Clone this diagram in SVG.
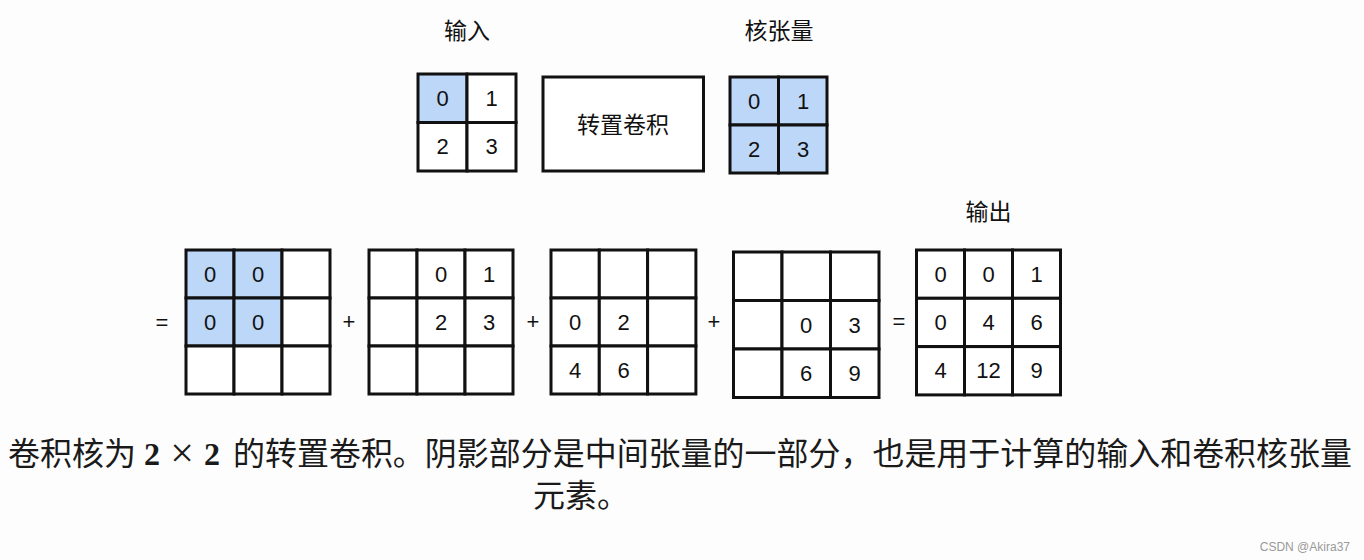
<svg xmlns="http://www.w3.org/2000/svg" width="1364" height="560" viewBox="0 0 1364 560">
<style>
.cell{fill:#ffffff;stroke:#111;stroke-width:3}
.sh{fill:#bcd7f8;stroke:#111;stroke-width:3}
.num{font-family:"Liberation Sans",Arial,sans-serif;font-size:22px;fill:#111;text-anchor:middle;dominant-baseline:central}
.lbl{font-family:"Noto Sans CJK SC","Noto Sans",sans-serif;font-size:23px;fill:#111;text-anchor:middle}
.op{font-family:"Liberation Sans",Arial,sans-serif;font-size:22px;fill:#111;text-anchor:middle;dominant-baseline:central}
.cap{font-family:"Noto Sans CJK SC",sans-serif;font-size:32px;fill:#1a1a1a}
.math{font-family:"Liberation Serif","DejaVu Serif",serif;font-size:32px;fill:#1a1a1a}
.mb{font-weight:bold}
</style>
<rect width="1364" height="560" fill="#fdfdfd"/>

<g id="label-input"><text class="lbl" x="467" y="39">输入</text></g>
<g id="label-kernel"><text class="lbl" x="779" y="39">核张量</text></g>
<g id="label-output"><text class="lbl" x="988.5" y="219.5">输出</text></g>

<g id="input">
<rect class="sh" x="418" y="74" width="49" height="48.5"/>
<rect class="cell" x="467" y="74" width="49" height="48.5"/>
<rect class="cell" x="418" y="122.5" width="49" height="48.5"/>
<rect class="cell" x="467" y="122.5" width="49" height="48.5"/>
<text class="num" x="442.5" y="98">0</text>
<text class="num" x="491.5" y="98">1</text>
<text class="num" x="442.5" y="146.5">2</text>
<text class="num" x="491.5" y="146.5">3</text>
</g>

<g id="op-box">
<rect class="cell" x="543" y="77" width="160.5" height="94"/>
<text class="lbl" x="623" y="133">转置卷积</text>
</g>

<g id="kernel">
<rect class="sh" x="730" y="77" width="48.5" height="48"/>
<rect class="sh" x="778.5" y="77" width="48.5" height="48"/>
<rect class="sh" x="730" y="125" width="48.5" height="48"/>
<rect class="sh" x="778.5" y="125" width="48.5" height="48"/>
<text class="num" x="754" y="101">0</text>
<text class="num" x="803" y="101">1</text>
<text class="num" x="754" y="149">2</text>
<text class="num" x="803" y="149">3</text>
</g>

<g id="ops">
<text class="op" x="162" y="322">=</text>
<text class="op" x="349" y="321">+</text>
<text class="op" x="533" y="321">+</text>
<text class="op" x="714" y="321">+</text>
<text class="op" x="899" y="321">=</text>
</g>

<g id="grid1">
<rect class="sh" x="186" y="250" width="48" height="48"/>
<rect class="sh" x="234" y="250" width="48" height="48"/>
<rect class="cell" x="282" y="250" width="48" height="48"/>
<rect class="sh" x="186" y="298" width="48" height="48"/>
<rect class="sh" x="234" y="298" width="48" height="48"/>
<rect class="cell" x="282" y="298" width="48" height="48"/>
<rect class="cell" x="186" y="346" width="48" height="48"/>
<rect class="cell" x="234" y="346" width="48" height="48"/>
<rect class="cell" x="282" y="346" width="48" height="48"/>
<text class="num" x="210" y="274">0</text>
<text class="num" x="258" y="274">0</text>
<text class="num" x="210" y="322">0</text>
<text class="num" x="258" y="322">0</text>
</g>

<g id="grid2">
<rect class="cell" x="369" y="250" width="48" height="48"/>
<rect class="cell" x="417" y="250" width="48" height="48"/>
<rect class="cell" x="465" y="250" width="48" height="48"/>
<rect class="cell" x="369" y="298" width="48" height="48"/>
<rect class="cell" x="417" y="298" width="48" height="48"/>
<rect class="cell" x="465" y="298" width="48" height="48"/>
<rect class="cell" x="369" y="346" width="48" height="48"/>
<rect class="cell" x="417" y="346" width="48" height="48"/>
<rect class="cell" x="465" y="346" width="48" height="48"/>
<text class="num" x="441" y="274">0</text>
<text class="num" x="489" y="274">1</text>
<text class="num" x="441" y="322">2</text>
<text class="num" x="489" y="322">3</text>
</g>

<g id="grid3">
<rect class="cell" x="551" y="250" width="48.3" height="48"/>
<rect class="cell" x="599.3" y="250" width="48.3" height="48"/>
<rect class="cell" x="647.6" y="250" width="48.3" height="48"/>
<rect class="cell" x="551" y="298" width="48.3" height="48"/>
<rect class="cell" x="599.3" y="298" width="48.3" height="48"/>
<rect class="cell" x="647.6" y="298" width="48.3" height="48"/>
<rect class="cell" x="551" y="346" width="48.3" height="48"/>
<rect class="cell" x="599.3" y="346" width="48.3" height="48"/>
<rect class="cell" x="647.6" y="346" width="48.3" height="48"/>
<text class="num" x="575" y="322">0</text>
<text class="num" x="623.5" y="322">2</text>
<text class="num" x="575" y="370">4</text>
<text class="num" x="623.5" y="370">6</text>
</g>

<g id="grid4">
<rect class="cell" x="733.5" y="252" width="48.5" height="48.5"/>
<rect class="cell" x="782" y="252" width="48.5" height="48.5"/>
<rect class="cell" x="830.5" y="252" width="48.5" height="48.5"/>
<rect class="cell" x="733.5" y="300.5" width="48.5" height="48.5"/>
<rect class="cell" x="782" y="300.5" width="48.5" height="48.5"/>
<rect class="cell" x="830.5" y="300.5" width="48.5" height="48.5"/>
<rect class="cell" x="733.5" y="349" width="48.5" height="48.5"/>
<rect class="cell" x="782" y="349" width="48.5" height="48.5"/>
<rect class="cell" x="830.5" y="349" width="48.5" height="48.5"/>
<text class="num" x="806" y="325">0</text>
<text class="num" x="854.5" y="325">3</text>
<text class="num" x="806" y="373">6</text>
<text class="num" x="854.5" y="373">9</text>
</g>

<g id="grid5">
<rect class="cell" x="916.5" y="250" width="48" height="48.3"/>
<rect class="cell" x="964.5" y="250" width="48" height="48.3"/>
<rect class="cell" x="1012.5" y="250" width="48" height="48.3"/>
<rect class="cell" x="916.5" y="298.3" width="48" height="48.3"/>
<rect class="cell" x="964.5" y="298.3" width="48" height="48.3"/>
<rect class="cell" x="1012.5" y="298.3" width="48" height="48.3"/>
<rect class="cell" x="916.5" y="346.6" width="48" height="48.3"/>
<rect class="cell" x="964.5" y="346.6" width="48" height="48.3"/>
<rect class="cell" x="1012.5" y="346.6" width="48" height="48.3"/>
<text class="num" x="940.5" y="274">0</text>
<text class="num" x="988.5" y="274">0</text>
<text class="num" x="1036.5" y="274">1</text>
<text class="num" x="940.5" y="322.5">0</text>
<text class="num" x="988.5" y="322.5">4</text>
<text class="num" x="1036.5" y="322.5">6</text>
<text class="num" x="940.5" y="370.5">4</text>
<text class="num" x="988.5" y="370.5">12</text>
<text class="num" x="1036.5" y="370.5">9</text>
</g>

<g id="caption">
<text class="cap" x="8" y="465">卷积核为</text>
<text class="math mb" x="144" y="465">2</text>
<text class="math" x="182" y="467" text-anchor="middle" style="font-size:42px">×</text>
<text class="math mb" x="204" y="465">2</text>
<text class="cap" x="233" y="465" textLength="1119" lengthAdjust="spacingAndGlyphs">的转置卷积。阴影部分是中间张量的一部分，也是用于计算的输入和卷积核张量</text>
<text class="cap" x="533" y="507">元素。</text>
</g>

<g id="watermark">
<text x="1350" y="551" text-anchor="end" style="font-family:'Liberation Sans',Arial,sans-serif;font-size:12px;fill:#999">CSDN @Akira37</text>
</g>
</svg>
